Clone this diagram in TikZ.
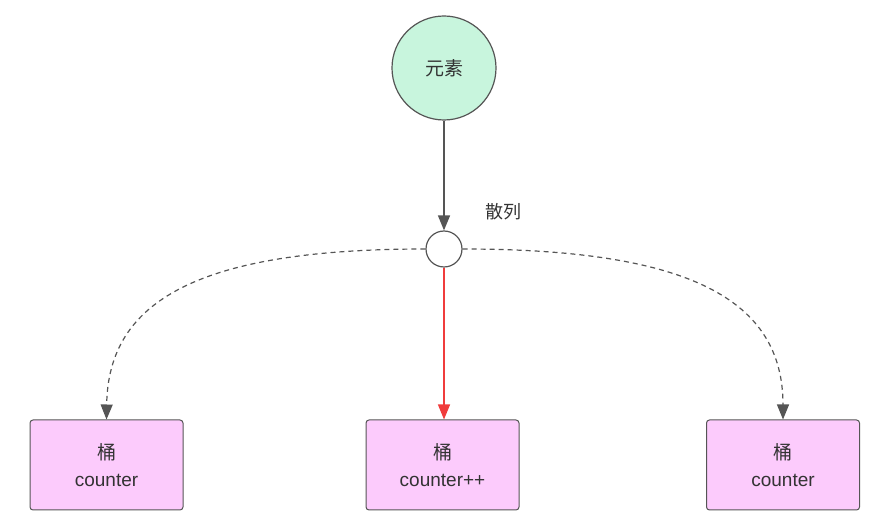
\documentclass[tikz,border=0pt]{standalone}
\usepackage{fontspec}
\setmainfont{Liberation Sans}
\newfontfamily\cjk{Noto Sans CJK SC}
\usetikzlibrary{arrows.meta}
\definecolor{elemfill}{HTML}{C8F5DD}
\definecolor{bucketfill}{HTML}{FCCBFC}
\definecolor{bucketline}{HTML}{555555}
\definecolor{hitred}{HTML}{F03C3C}
\definecolor{labeltext}{HTML}{333333}
\tikzset{
  elem/.style={circle, draw=bucketline, fill=elemfill, line width=1.2pt, minimum size=104pt, inner sep=0pt, text=labeltext, font=\cjk\fontsize{19}{22}\selectfont},
  hashdot/.style={circle, draw=bucketline, fill=white, line width=1.2pt, minimum size=36pt, inner sep=0pt},
  bucket/.style={draw=bucketline, fill=bucketfill, line width=1pt, rounded corners=3pt, minimum width=153pt, minimum height=90pt, align=center, text=labeltext, font=\fontsize{19}{27}\selectfont},
  tip/.style={-{Triangle[length=15pt,width=12pt]}},
  miss/.style={tip, dashed, dash pattern=on 5pt off 4pt, draw=bucketline, line width=1.2pt},
}
\begin{document}
\begin{tikzpicture}[x=1pt, y=-1pt]
  \useasboundingbox (0,0) rectangle (871,526);
  \node[elem] (elem) at (444,68) {元素};
  \node[hashdot] (hash) at (444,249) {};
  \node[text=labeltext, font=\cjk\fontsize{18}{22}\selectfont] at (503,212) {散列};
  \node[bucket] (left) at (106.5,465) {{\cjk 桶}\\counter};
  \node[bucket] (mid) at (442.5,465) {{\cjk 桶}\\counter++};
  \node[bucket] (right) at (783,465) {{\cjk 桶}\\counter};
  % hash and buckets
  \draw[tip, draw=bucketline, fill=bucketline, line width=1.5pt] (elem) -- (hash);
  \draw[tip, draw=hitred, fill=hitred, line width=1.2pt] (hash) -- (hash |- mid.north);
  \draw[miss] (hash.west) .. controls (200,249) and (108,300) .. (left.north);
  \draw[miss] (hash.east) .. controls (690,249) and (783,300) .. (right.north);
\end{tikzpicture}
\end{document}
